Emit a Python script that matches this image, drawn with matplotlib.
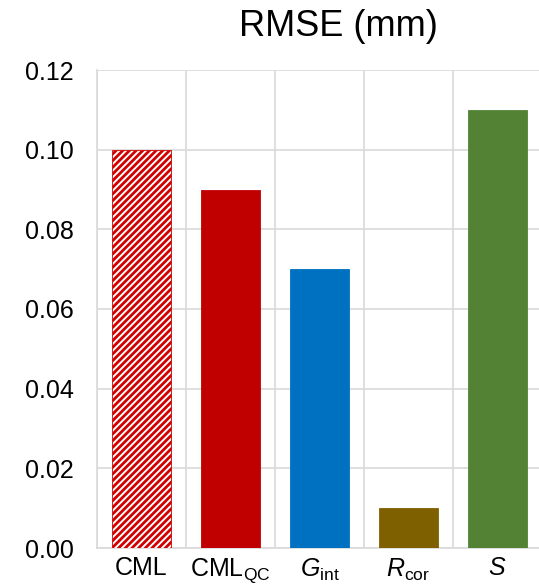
import matplotlib
matplotlib.use("Agg")
import matplotlib.pyplot as plt
import numpy as np

categories = [r"CML", r"CML$_{\mathrm{QC}}$", r"$G_{\mathrm{int}}$", r"$R_{\mathrm{cor}}$", r"$S$"]
values = [0.10, 0.09, 0.07, 0.01, 0.11]
colors = ["#C00000", "#C00000", "#0070C0", "#7F6000", "#548235"]
yticks = [0.00, 0.02, 0.04, 0.06, 0.08, 0.10, 0.12]

plt.rcParams['font.family'] = ['Liberation Sans', 'DejaVu Sans']
plt.rcParams['mathtext.fontset'] = 'custom'
plt.rcParams['mathtext.rm'] = 'Liberation Sans'
plt.rcParams['mathtext.it'] = 'Liberation Sans:italic'
plt.rcParams['hatch.linewidth'] = 2.0

W, H = 539, 585
fig = plt.figure(figsize=(W/100, H/100), dpi=100)
ax = fig.add_axes([97/W, (H-548)/H, (542-97)/W, (548-70)/H])

x = np.arange(len(categories))
bars = ax.bar(x, values, width=0.67, color=colors, edgecolor=colors, linewidth=0.6, zorder=3)
bars[0].set_facecolor("white")
bars[0].set_hatch("/////")
bars[0].set_edgecolor("#D00000")

ax.set_xlim(-0.5, len(categories) - 0.5)
ax.set_ylim(0, 0.12)
ax.set_yticks(yticks)
ax.set_yticklabels([f"{v:.2f}" for v in yticks])
ax.set_xticks(x)
ax.set_xticklabels(categories)
ax.set_xticks(np.arange(len(categories) + 1) - 0.5, minor=True)

gc = "#D9D9D9"
ax.grid(axis='y', which='major', color=gc, linewidth=1.2, zorder=0)
ax.grid(axis='x', which='minor', color=gc, linewidth=1.2, zorder=0)
ax.grid(axis='x', which='major', visible=False)
ax.tick_params(axis='both', which='both', length=0)
ax.tick_params(axis='y', labelsize=18, pad=17)
ax.tick_params(axis='x', labelsize=18, pad=6)
for s in ['top', 'right']:
    ax.spines[s].set_visible(False)
for s in ['left', 'bottom']:
    ax.spines[s].set_color(gc)
    ax.spines[s].set_linewidth(1.2)

fig.text(338/W, 1 - 26/H, "RMSE (mm)", fontsize=26, ha='center', va='center')

fig.savefig("out.png", dpi=100)
